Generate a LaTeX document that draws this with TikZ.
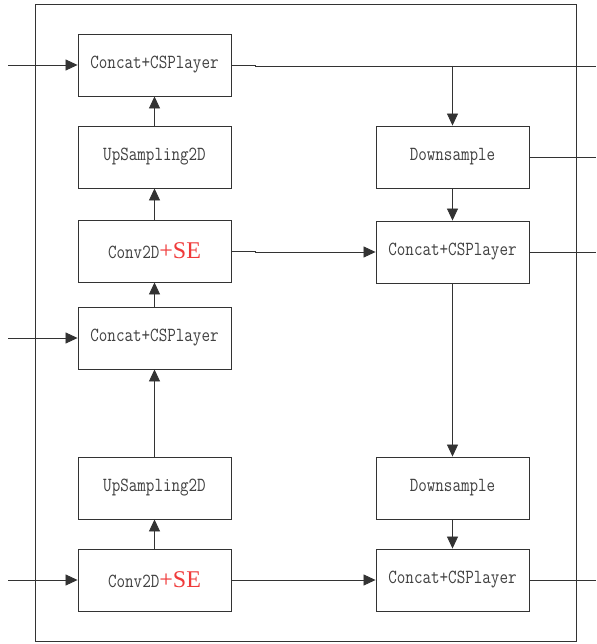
\documentclass[tikz,border=0pt]{standalone}
\usepackage{fontspec}
\setmonofont[FakeStretch=0.83]{Latin Modern Mono}
\newfontfamily\sefont{Liberation Serif}
\usetikzlibrary{arrows.meta}
\definecolor{txtgray}{HTML}{404040}
\definecolor{linegray}{HTML}{333333}
\definecolor{sered}{HTML}{F03A3A}
\tikzset{
  blk/.style={draw=linegray, line width=0.9pt, minimum width=153pt, minimum height=62pt,
    inner sep=0pt, text=txtgray, font=\ttfamily\fontsize{20}{22}\selectfont},
  arr/.style={draw=linegray, line width=0.8pt, -{Triangle[length=12pt,width=11pt]}},
  ln/.style={draw=linegray, line width=0.8pt},
}
\newcommand{\seTxt}{{\sefont\fontsize{24}{26}\selectfont\color{sered}+SE}}
\begin{document}
\begin{tikzpicture}[x=1pt,y=-1pt]
\useasboundingbox (0,0) rectangle (596,644);
\fill[white] (0,0) rectangle (596,644);
\draw[draw=linegray, line width=0.9pt] (35,4) rectangle (576,641);
% left column
\node[blk] (c1) at (154.5,65) {Concat+CSPlayer};
\node[blk] (u1) at (154.5,157) {UpSampling2D};
\node[blk] (s1) at (154.5,251) {Conv2D\seTxt};
\node[blk] (c2) at (154.5,338) {Concat+CSPlayer};
\node[blk] (u2) at (154.5,488) {UpSampling2D};
\node[blk] (s2) at (154.5,580) {Conv2D\seTxt};
% right column
\node[blk] (d1) at (452.5,157) {Downsample};
\node[blk] (c3) at (452.5,252) {Concat+CSPlayer};
\node[blk] (d2) at (452.5,488) {Downsample};
\node[blk] (c4) at (452.5,580) {Concat+CSPlayer};
% inputs
\coordinate (i1) at (8,65);
\coordinate (i2) at (8,338);
\coordinate (i3) at (8,580);
\draw[arr] (i1) -- (c1.west);
\draw[arr] (i2) -- (c2.west);
\draw[arr] (i3) -- (s2.west);
% left column upward arrows
\draw[arr] (u1.north) -- (c1.south);
\draw[arr] (s1.north) -- (u1.south);
\draw[arr] (c2.north) -- (s1.south);
\draw[arr] (u2.north) -- (c2.south);
\draw[arr] (s2.north) -- (u2.south);
% outputs
\coordinate (o1) at (596,66);
\coordinate (o2) at (596,157);
\coordinate (o3) at (596,252);
\coordinate (o4) at (596,580);
\coordinate (br) at (452.5,66);
\draw[ln] (c1.east) -- (255,65) -- (255,66) -- (o1);
\draw[arr] (br) -- (d1.north);
\draw[ln] (d1.east) -- (o2);
\draw[ln] (c3.east) -- (o3);
\draw[ln] (c4.east) -- (o4);
% right column
\draw[arr] (d1.south) -- (c3.north);
\draw[arr] (c3.south) -- (d2.north);
\draw[arr] (d2.south) -- (c4.north);
% cross arrows
\draw[arr] (s1.east) -- (255,251) -- (255,252) -- (c3.west);
\draw[arr] (s2.east) -- (c4.west);
\end{tikzpicture}
\end{document}
